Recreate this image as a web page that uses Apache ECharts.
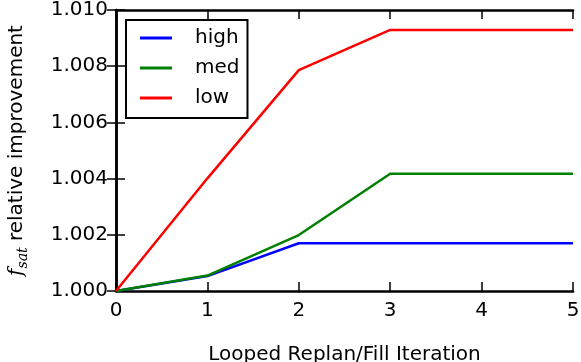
<!DOCTYPE html>
<html>
<head>
<meta charset="utf-8">
<script src="https://cdn.jsdelivr.net/npm/echarts@6/dist/echarts.min.js"></script>
<style>
  html, body { margin: 0; padding: 0; background: #fff; }
  #chart { width: 581px; height: 362px; }
</style>
</head>
<body>
<div id="chart"></div>
<script>
// iteration number on the x axis
const iterations = [0, 1, 2, 3, 4, 5];
// relative improvement per level
const highValues = [1.0, 1.00053, 1.0017, 1.0017, 1.0017, 1.0017];
const medValues = [1.0, 1.00055, 1.00199, 1.00417, 1.00417, 1.00417];
const lowValues = [1.0, 1.00401, 1.00786, 1.00929, 1.00929, 1.00929];
const seriesNames = ['high', 'med', 'low'];
const seriesColors = ['#0000ff', '#008000', '#ff0000'];

const FONT = 'DejaVu Sans';
const FONT_SIZE = 20;

let chart = echarts.init(document.getElementById('chart'));

function pairs(vals) {
  return iterations.map(function (x, i) { return [x, vals[i]]; });
}

// 每个轴都要新的对象
function tickStyle() {
  return {
    show: true,
    inside: true,
    length: 9,
    lineStyle: { color: '#000', width: 1.5 }
  };
}
function axisLineStyle() {
  return { show: true, lineStyle: { color: '#000', width: 2.5 } };
}

let option = {
  animation: false,
  backgroundColor: '#fff',
  grid: {
    left: 116,
    right: 8,
    top: 10,
    bottom: 71,
    outerBoundsMode: 'none',
    containLabel: false
  },
  legend: {
    left: 126,
    top: 20,
    orient: 'vertical',
    data: seriesNames,
    icon: 'rect',
    itemWidth: 32,
    itemHeight: 3,
    itemGap: 10,
    padding: [8, 8, 10, 14],
    borderColor: '#000',
    borderWidth: 2,
    backgroundColor: '#fff',
    textStyle: {
      fontFamily: FONT,
      fontSize: FONT_SIZE,
      color: '#000',
      padding: [0, 0, 0, 18]
    }
  },
  xAxis: [{
    type: 'value',
    min: 0,
    max: 5,
    interval: 1,
    name: 'Looped Replan/Fill Iteration',
    nameLocation: 'middle',
    nameGap: 54,
    nameTextStyle: { fontFamily: FONT, fontSize: FONT_SIZE, color: '#000' },
    axisLine: axisLineStyle(),
    axisTick: tickStyle(),
    axisLabel: { fontFamily: FONT, fontSize: FONT_SIZE, color: '#000', margin: 10 },
    splitLine: { show: false }
  }, {
    type: 'value',
    position: 'top',
    min: 0,
    max: 5,
    interval: 1,
    axisLine: axisLineStyle(),
    axisTick: tickStyle(),
    axisLabel: { show: false },
    splitLine: { show: false }
  }],
  yAxis: [{
    type: 'value',
    min: 1.0,
    max: 1.01,
    interval: 0.002,
    name: '{f|f}{s|sat} relative improvement',
    nameLocation: 'middle',
    nameGap: 86,
    nameTextStyle: {
      fontFamily: FONT,
      fontSize: FONT_SIZE,
      color: '#000',
      rich: {
        f: { fontFamily: 'DejaVu Serif', fontStyle: 'italic', fontSize: 20, color: '#000' },
        s: { fontFamily: 'DejaVu Serif', fontStyle: 'italic', fontSize: 14, color: '#000', padding: [12, 0, 0, 0] }
      }
    },
    axisLine: axisLineStyle(),
    axisTick: tickStyle(),
    axisLabel: {
      fontFamily: FONT,
      fontSize: FONT_SIZE,
      color: '#000',
      margin: 8,
      formatter: function (v) { return v.toFixed(3); }
    },
    splitLine: { show: false }
  }, {
    type: 'value',
    position: 'right',
    min: 1.0,
    max: 1.01,
    interval: 0.002,
    axisLine: axisLineStyle(),
    axisTick: tickStyle(),
    axisLabel: { show: false },
    splitLine: { show: false }
  }],
  series: [highValues, medValues, lowValues].map(function (vals, i) {
    return {
      name: seriesNames[i],
      type: 'line',
      data: pairs(vals),
      symbol: 'none',
      color: seriesColors[i],
      lineStyle: { color: seriesColors[i], width: 2.5 },
      z: 3
    };
  })
};

chart.setOption(option);
</script>
</body>
</html>
